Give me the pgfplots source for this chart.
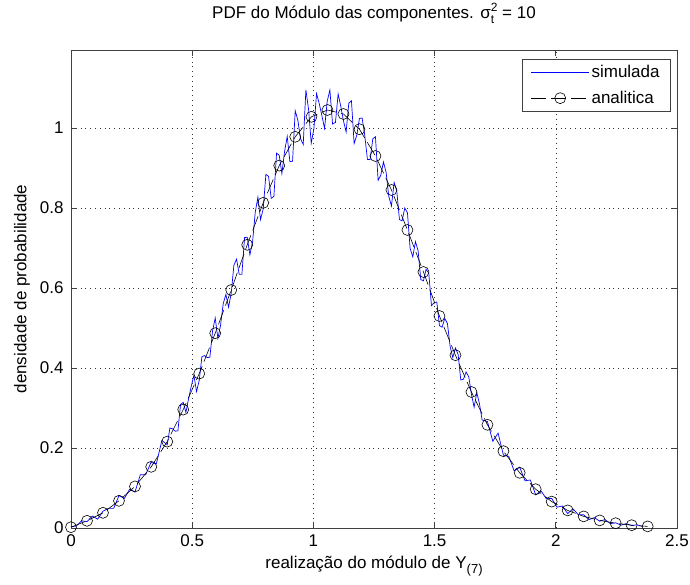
\documentclass[border=0pt]{standalone}
\usepackage{fontspec}
\setmainfont{Liberation Sans}
\usepackage{pgfplots}
\pgfplotsset{compat=1.18}

\definecolor{axisgray}{gray}{0.25}

% long legend samples
\pgfplotsset{
  longline legend/.style={legend image code/.code={\draw[##1] (0pt,0pt) -- (58pt,0pt);}},
  longmark legend/.style={legend image code/.code={\draw[mark repeat=2,mark phase=2,##1]
    plot coordinates {(0pt,0pt) (29pt,0pt) (58pt,0pt)};}},
}

\begin{document}
\begin{tikzpicture}
% fixed page frame around the axis box
\useasboundingbox (-71pt,-57pt) rectangle (619pt,528pt);
\begin{axis}[
  scale only axis,
  width=606pt, height=478pt,
  xmin=0, xmax=2.5, ymin=0, ymax=1.195,
  xtick={0,0.5,1,1.5,2,2.5},
  ytick={0,0.2,0.4,0.6,0.8,1},
  /pgf/number format/assume math mode=true,
  tick label style={font=\fontsize{17}{20}\selectfont},
  xticklabel style={yshift=-3pt},
  yticklabel style={xshift=-4pt},
  tick align=inside,
  major tick length=6pt,
  tick style={axisgray, line width=0.7pt},
  axis line style={axisgray, line width=0.9pt},
  grid=major,
  major grid style={black!80, line width=0.6pt, dash pattern=on 0.8pt off 4pt},
  title={PDF do Módulo das componentes. σ\rlap{\raisebox{-0.55ex}{\fontsize{12}{13}\selectfont t}}\raisebox{0.85ex}{\fontsize{12}{13}\selectfont 2}\ = 10},
  title style={at={(axis description cs:0.5,1.0523)}, anchor=base, font=\fontsize{17}{20}\selectfont},
  xlabel={realização do módulo de Y\raisebox{-0.6ex}{\fontsize{13}{15}\selectfont (7)}},
  xlabel style={at={(axis description cs:0.5,-0.0837)}, anchor=base, font=\fontsize{17}{20}\selectfont},
  ylabel={densidade de probabilidade},
  ylabel style={at={(axis description cs:-0.081,0.5)}, anchor=center, font=\fontsize{17}{20}\selectfont},
  legend style={at={(axis description cs:0.990,0.981)}, anchor=north east,
    draw=axisgray, line width=0.7pt, fill=white,
    font=\fontsize{17}{20}\selectfont, inner xsep=9pt, inner ysep=4pt,
    row sep=8pt},
  legend cell align=left,
]
% histogram estimate from the simulation
\addplot[blue, line width=0.7pt, longline legend]
coordinates {
(0,0.003) (0.022,0.005) (0.044,0.018) (0.066,0.016) (0.088,0.030) (0.110,0.022)
(0.132,0.042) (0.154,0.049) (0.176,0.049) (0.198,0.081) (0.220,0.074) (0.242,0.097)
(0.264,0.090) (0.286,0.133) (0.308,0.133) (0.330,0.164) (0.352,0.160) (0.375,0.219)
(0.397,0.208) (0.408,0.250) (0.419,0.248) (0.430,0.242) (0.441,0.243) (0.452,0.309)
(0.463,0.314) (0.474,0.289) (0.485,0.323) (0.496,0.354) (0.507,0.382) (0.518,0.341)
(0.529,0.369) (0.540,0.428) (0.551,0.431) (0.562,0.426) (0.573,0.427) (0.584,0.493)
(0.595,0.525) (0.606,0.474) (0.617,0.507) (0.628,0.561) (0.639,0.584) (0.650,0.552)
(0.661,0.587) (0.672,0.657) (0.683,0.672) (0.694,0.634) (0.705,0.634) (0.716,0.726)
(0.727,0.727) (0.738,0.683) (0.749,0.715) (0.760,0.789) (0.771,0.827) (0.782,0.771)
(0.793,0.798) (0.804,0.884) (0.815,0.879) (0.826,0.824) (0.837,0.829) (0.848,0.937)
(0.859,0.932) (0.870,0.886) (0.881,0.941) (0.892,0.979) (0.903,0.916) (0.914,0.917)
(0.925,1.043) (0.936,1.019) (0.947,0.973) (0.958,0.959) (0.969,1.095) (0.980,1.047)
(0.991,0.962) (1.002,0.998) (1.013,1.086) (1.024,1.061) (1.035,1.031) (1.046,0.999)
(1.057,1.067) (1.068,1.095) (1.079,1.010) (1.091,1.014) (1.102,1.085) (1.113,1.054)
(1.124,1.018) (1.135,0.990) (1.146,1.062) (1.157,1.068) (1.168,0.961) (1.179,0.982)
(1.190,1.024) (1.201,1.025) (1.212,0.981) (1.223,0.921) (1.234,0.921) (1.245,0.973)
(1.256,0.978) (1.267,0.869) (1.278,0.882) (1.289,0.915) (1.300,0.889) (1.311,0.829)
(1.322,0.805) (1.333,0.864) (1.344,0.842) (1.355,0.771) (1.366,0.768) (1.377,0.800)
(1.388,0.788) (1.399,0.699) (1.410,0.678) (1.421,0.716) (1.432,0.693) (1.443,0.621)
(1.454,0.618) (1.465,0.647) (1.476,0.637) (1.487,0.556) (1.498,0.563) (1.509,0.565)
(1.520,0.506) (1.531,0.502) (1.542,0.524) (1.553,0.511) (1.564,0.454) (1.575,0.426)
(1.586,0.450) (1.597,0.434) (1.608,0.370) (1.619,0.372) (1.630,0.390) (1.641,0.378)
(1.652,0.334) (1.663,0.302) (1.674,0.338) (1.685,0.311) (1.696,0.270)
(1.718,0.266) (1.740,0.217) (1.762,0.237) (1.784,0.182) (1.806,0.179) (1.828,0.143)
(1.851,0.152) (1.873,0.118) (1.895,0.120) (1.917,0.083) (1.939,0.093) (1.961,0.073)
(1.983,0.074) (2.005,0.052) (2.027,0.055) (2.049,0.036) (2.071,0.048) (2.093,0.033)
(2.115,0.033) (2.137,0.021) (2.159,0.026) (2.181,0.017) (2.203,0.021) (2.225,0.011)
(2.247,0.013) (2.269,0.007) (2.291,0.011) (2.313,0.006) (2.335,0.008) (2.357,0.004)
};
\addlegendentry{simulada\hspace{6pt}}
% analytic density
\addplot[black, line width=0.6pt, dash pattern=on 15pt off 5pt,
  mark=o, mark size=5.5pt, mark options={solid, line width=0.6pt}, longmark legend]
coordinates {
(0,0.002) (0.066,0.018) (0.132,0.038) (0.198,0.068) (0.264,0.104) (0.331,0.153)
(0.397,0.216) (0.463,0.296) (0.529,0.386) (0.595,0.487) (0.661,0.595) (0.727,0.708)
(0.793,0.813) (0.859,0.906) (0.925,0.978) (0.992,1.028) (1.058,1.045) (1.124,1.035)
(1.190,0.997) (1.256,0.930) (1.322,0.845) (1.388,0.745) (1.454,0.640) (1.520,0.530)
(1.586,0.432) (1.652,0.340) (1.718,0.258) (1.784,0.192) (1.851,0.138) (1.917,0.097)
(1.983,0.066) (2.049,0.044) (2.115,0.029) (2.181,0.019) (2.247,0.012) (2.313,0.007)
(2.379,0.004)
};
\addlegendentry{analitica\hspace{6pt}}
\end{axis}
\end{tikzpicture}
\end{document}
